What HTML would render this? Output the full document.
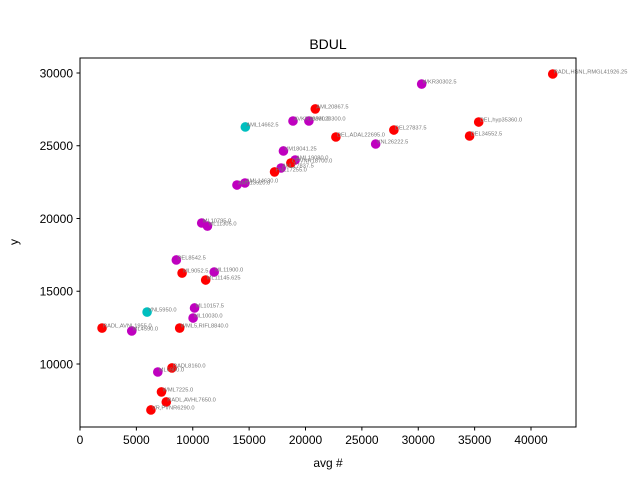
<!DOCTYPE html>
<html><head><meta charset="utf-8"><style>
html,body{margin:0;padding:0;background:#fff;}
svg{display:block;font-family:"Liberation Sans","DejaVu Sans",sans-serif;}
</style></head><body>
<svg id="chart" width="640" height="480" viewBox="0 0 640 480">
<rect x="0" y="0" width="640" height="480" fill="#fff"/>
<text x="328" y="49" text-anchor="middle" font-size="14">BDUL</text>
<g id="marks"></g>
<g id="axes"></g>
<text x="328" y="467" text-anchor="middle" font-size="12">avg #</text>
<text x="18" y="242" text-anchor="middle" font-size="12" transform="rotate(-90 18 242)">y</text>
</svg>
<script>
const xVals=[41926.25,30302.5,20867.5,14662.5,18890,20300,22695,27837.5,26222.5,35360,34552.5,18041.25,19080,18700,17837.5,17255,14630,13920,10795,11305,8542.5,9052.5,11900,11145.625,10157.5,10030,5950,1955,4590,8840,8160,6900,7225,7650,6290];
const yVals=[29930,29240,27530,26290,26700,26700,25600,26080,25120,26630,25670,24640,24020,23810,23470,23200,22440,22300,19690,19480,17150,16250,16320,15770,13850,13160,13570,12470,12270,12470,9730,9450,8080,7390,6840];
const colors=["r","m","r","c","m","m","r","r","m","r","r","m","m","r","m","r","m","m","m","m","m","r","m","r","m","m","c","r","m","r","r","m","r","r","r"];
const labels=["RADL,HSNL,RMGL41926.25","WKR30302.5","AML20867.5","AML14662.5","AVKR18890.0","AVML20300.0","DEL,ADAL22695.0","DEL27837.5","VNL26222.5","DEL,hyp35360.0","DEL34552.5","VM18041.25","AML19080.0","CPVNR18700.0","ANL17837.5","FNL17255.0","AML14630.0","AML13920.0","ML10795.0","ML11305.0","DEL8542.5","ML9052.5","ML11900.0","ML11145.625","ML10157.5","ML10030.0","VNL5950.0","RADL,AVNL1955.0","ML4590.0","WML5,RIFL8840.0","RADL8160.0","ML6900.0","WML7225.0","RADL,AVHL7650.0","VR,PVNR6290.0"];
const xTicks=[0,5000,10000,15000,20000,25000,30000,35000,40000];
const yTicks=[10000,15000,20000,25000,30000];
const X0=80,X1=576,Y0=58,Y1=427;
const xMin=0,xMax=43990,yMin=5670,yMax=31030;
const sx=v=>X0+(v-xMin)/(xMax-xMin)*(X1-X0);
const sy=v=>Y1-(v-yMin)/(yMax-yMin)*(Y1-Y0);
const cmap={r:"#ff0000",m:"#bf00bf",c:"#00bfbf"};
const NS="http://www.w3.org/2000/svg";
const marks=document.getElementById('marks'),axes=document.getElementById('axes');
for(let i=0;i<xVals.length;i++){
 const c=document.createElementNS(NS,'circle');
 c.setAttribute('cx',sx(xVals[i]));c.setAttribute('cy',sy(yVals[i]));c.setAttribute('r',4.8);
 c.setAttribute('fill',cmap[colors[i]]);
 
 
 marks.appendChild(c);
}
for(let i=0;i<xVals.length;i++){
 const t=document.createElementNS(NS,'text');
 t.setAttribute('x',sx(xVals[i])+1);t.setAttribute('y',sy(yVals[i])-0.5);
 t.setAttribute('font-size','5.7');t.setAttribute('fill','#777');
 t.textContent=labels[i];
 
 
 marks.appendChild(t);
}
const fr=document.createElementNS(NS,'rect');
fr.setAttribute('x',X0);fr.setAttribute('y',Y0);fr.setAttribute('width',X1-X0);fr.setAttribute('height',Y1-Y0);
fr.setAttribute('fill','none');fr.setAttribute('stroke','#000');fr.setAttribute('stroke-width','1');


axes.appendChild(fr);
xTicks.forEach(v=>{
 const x=sx(v);
 const l=document.createElementNS(NS,'line');
 l.setAttribute('x1',x);l.setAttribute('x2',x);l.setAttribute('y1',Y1);l.setAttribute('y2',Y1+3.5);l.setAttribute('stroke','#000');
 
 
 axes.appendChild(l);
 const t=document.createElementNS(NS,'text');
 t.setAttribute('x',x);t.setAttribute('y',Y1+17);t.setAttribute('text-anchor','middle');t.setAttribute('font-size','12');
 t.textContent=v;
 
 
 axes.appendChild(t);
});
yTicks.forEach(v=>{
 const y=sy(v);
 const l=document.createElementNS(NS,'line');
 l.setAttribute('x1',X0-3.5);l.setAttribute('x2',X0);l.setAttribute('y1',y);l.setAttribute('y2',y);l.setAttribute('stroke','#000');
 
 
 axes.appendChild(l);
 const t=document.createElementNS(NS,'text');
 t.setAttribute('x',X0-7);t.setAttribute('y',y+4.5);t.setAttribute('text-anchor','end');t.setAttribute('font-size','12');
 t.textContent=v;
 
 
 axes.appendChild(t);
});
</script>
</body></html>
